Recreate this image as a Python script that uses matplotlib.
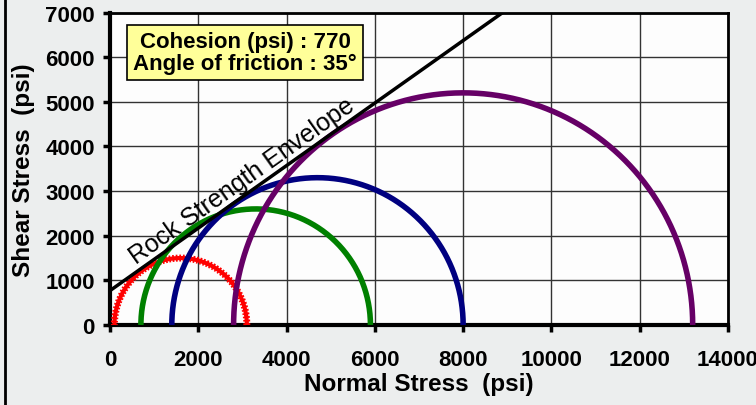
import numpy as np
import matplotlib
matplotlib.use("Agg")
import matplotlib.pyplot as plt

plt.rcParams['font.family'] = ['Liberation Sans', 'DejaVu Sans']

# Mohr circles: (sigma3, sigma1) in psi
sigma3 = [100, 700, 1400, 2800]
sigma1 = [3100, 5900, 8000, 13200]
colors = ['#ff0000', '#008000', '#000080', '#660066']

cohesion = 770
friction_deg = 35
env_x = [0, 14000]

xticks = [0, 2000, 4000, 6000, 8000, 10000, 12000, 14000]
yticks = [0, 1000, 2000, 3000, 4000, 5000, 6000, 7000]

fig = plt.figure(figsize=(7.56, 4.06), dpi=100)
fig.patch.set_facecolor('#eceeee')
ax = fig.add_axes([110/756, 1-326/406, 618/756, 312.5/406])
ax.set_facecolor('#fdfdfd')

for s3, s1, c in zip(sigma3, sigma1, colors):
    cen = (s1 + s3) / 2
    r = (s1 - s3) / 2
    th = np.linspace(0, np.pi, 400)
    xs = cen + r * np.cos(th)
    ys = r * np.sin(th)
    if c == '#ff0000':
        ax.plot(xs, ys, color=c, lw=3, zorder=3, clip_on=False, solid_capstyle='butt')
        ax.plot(xs, ys, color=c, lw=5, ls=(0, (0.25, 0.25)), zorder=3, clip_on=False)
    else:
        ax.plot(xs, ys, color=c, lw=4, zorder=3, clip_on=False, solid_capstyle='butt')

ex = np.array(env_x)
ey = cohesion + np.tan(np.radians(friction_deg)) * ex
ax.plot(ex, ey, color='black', lw=2.5, zorder=4)

ax.text(3000, 3230, 'Rock Strength Envelope', rotation=35.3, rotation_mode='anchor',
        ha='center', va='center', fontsize=18, zorder=5)

ax.text(0.219, 0.872, 'Cohesion (psi) : 770\nAngle of friction : 35\u00b0',
        transform=ax.transAxes, ha='center', va='center', fontsize=16, fontweight='bold',
        linespacing=1.05, multialignment='center',
        bbox=dict(boxstyle='square,pad=0.27', facecolor='#ffff99', edgecolor='black', lw=1.2),
        zorder=6)

ax.set_xlim(0, 14000)
ax.set_ylim(0, 7000)
ax.set_xticks(xticks)
ax.set_yticks(yticks)
ax.set_xticklabels([str(v) for v in xticks], fontsize=16, fontweight='bold')
ax.set_yticklabels([str(v) for v in yticks], fontsize=16, fontweight='bold')
ax.grid(True, color='#333333', lw=1)
ax.set_axisbelow(True)
ax.tick_params(direction='out', length=5, width=2.5, pad=12)
ax.tick_params(axis='y', pad=6)
for side in ['left', 'bottom']:
    ax.spines[side].set_linewidth(3)
for side in ['top', 'right']:
    ax.spines[side].set_linewidth(2)

ax.set_xlabel('Normal Stress  (psi)', fontsize=17.5, fontweight='bold', labelpad=2)
ax.set_ylabel('Shear Stress  (psi)', fontsize=17.5, fontweight='bold', labelpad=7)

fig.add_artist(plt.Line2D([5/756, 5/756], [0, 1], color='black', lw=2, transform=fig.transFigure))

fig.savefig('out.png', dpi=100, facecolor=fig.get_facecolor())
